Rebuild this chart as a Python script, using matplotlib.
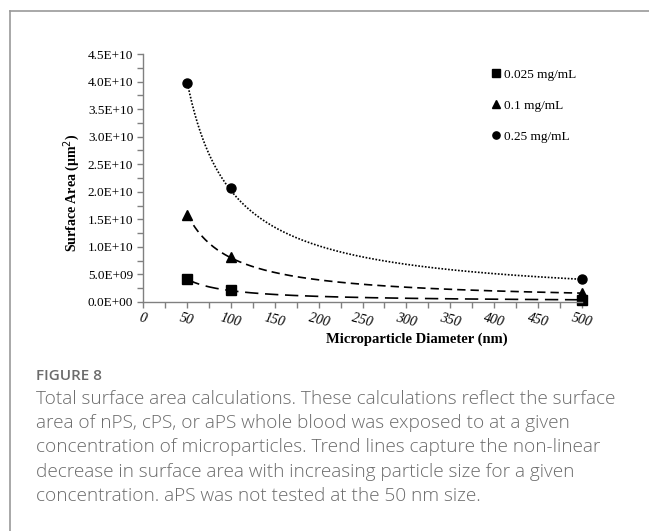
import matplotlib.pyplot as plt
import numpy as np
from matplotlib.lines import Line2D
from matplotlib.ticker import FuncFormatter, MultipleLocator

# data
diameter = [50, 100, 500]
conc_labels = ['0.025 mg/mL', '0.1 mg/mL', '0.25 mg/mL']
area_0025 = [4.1e9, 2.1e9, 4.0e8]
area_01 = [1.58e10, 8.2e9, 1.6e9]
area_025 = [3.97e10, 2.06e10, 4.1e9]

x_ticks = [0, 50, 100, 150, 200, 250, 300, 350, 400, 450, 500]
caption_head = 'FIGURE 8'
caption_lines = [
    'Total surface area calculations. These calculations reflect the surface',
    'area of nPS, cPS, or aPS whole blood was exposed to at a given',
    'concentration of microparticles. Trend lines capture the non-linear',
    'decrease in surface area with increasing particle size for a given',
    'concentration. aPS was not tested at the 50 nm size.',
]

serif = 'Liberation Serif'
W, H = 649, 531

fig = plt.figure(figsize=(W / 100, H / 100), dpi=100)
ax = fig.add_axes([143 / W, 1 - 302 / H, 439 / W, 248 / H])

series = [
    (area_0025, 's', (0, (8, 4))),
    (area_01, '^', (0, (5, 3))),
    (area_025, 'o', (0, (1, 1))),
]

xs = np.linspace(diameter[0], diameter[-1], 300)
for (vals, mk, ls), lab in zip(series, conc_labels):
    # power trendline like Excel
    b, a = np.polyfit(np.log(diameter), np.log(vals), 1)
    ax.plot(xs, np.exp(a) * xs ** b, color='black', lw=1.2, linestyle=ls)
    ax.plot(diameter, vals, linestyle='none', marker=mk, color='black',
            markersize=6.5, label=lab, clip_on=False)

ax.set_xlim(0, 500)
ax.set_ylim(0, 4.5e10)
ax.set_xticks(x_ticks)
ax.xaxis.set_minor_locator(MultipleLocator(25))
ax.yaxis.set_major_locator(MultipleLocator(5e9))
ax.yaxis.set_minor_locator(MultipleLocator(2.5e9))
ax.yaxis.set_major_formatter(FuncFormatter(lambda v, p: f'{v:.1E}'))

for s in ['top', 'right']:
    ax.spines[s].set_visible(False)
for s in ['left', 'bottom']:
    ax.spines[s].set_color('#808080')
    ax.spines[s].set_linewidth(1.0)
ax.tick_params(which='both', direction='out', length=4, color='#808080', width=1)
ax.tick_params(axis='y', labelsize=9.5, pad=3)
ax.tick_params(axis='x', labelsize=10, pad=3)
for t in ax.get_yticklabels():
    t.set_fontfamily(serif)
for t in ax.get_xticklabels():
    t.set_fontfamily(serif)
    t.set_fontstyle('italic')
    t.set_rotation(-15)
    t.set_ha('center')

ax.set_ylabel('Surface Area (µm$^2$)', fontfamily=serif, fontweight='bold', fontsize=10)
ax.yaxis.set_label_coords(-0.14, 0.44)
ax.set_xlabel('Microparticle Diameter (nm)', fontfamily=serif, fontweight='bold', fontsize=10.5)
ax.xaxis.set_label_coords(0.624, -0.125)

leg = ax.legend(loc='upper left', bbox_to_anchor=(480 / W, 1 - 57 / H),
                bbox_transform=fig.transFigure, frameon=False,
                prop={'family': serif, 'size': 9.5}, handlelength=0.6,
                handletextpad=0.3, labelspacing=1.4, markerscale=0.8)

# outer frame of the figure panel
fig.add_artist(Line2D([10 / W, 10 / W], [0, 1 - 11 / H], color='#9a9a9a', lw=1.2))
fig.add_artist(Line2D([10 / W, 1], [1 - 11 / H, 1 - 11 / H], color='#9a9a9a', lw=1.2))

fig.text(36 / W, 1 - 376 / H, caption_head, fontfamily='Open Sans', fontsize=11,
         fontweight='semibold', color='#6b6b6b', va='center')
for i, line in enumerate(caption_lines):
    fig.text(36 / W, 1 - (399 + i * 24.2) / H, line, fontfamily='Open Sans',
             fontsize=13.7, fontweight='light', color='#6b6b6b', va='center')

fig.savefig('out.png', dpi=100)
